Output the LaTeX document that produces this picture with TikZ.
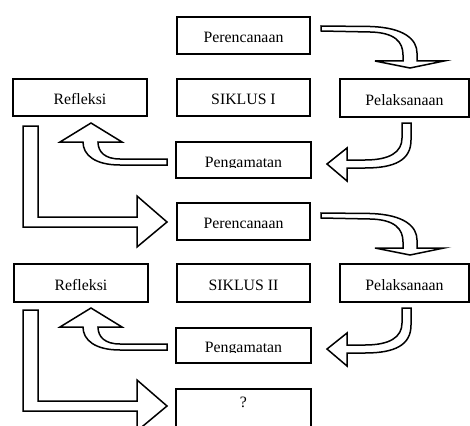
\documentclass[tikz,border=0pt]{standalone}
\usepackage{fontspec}
\setmainfont{Liberation Serif}
\newcommand\myArrA{\draw[blk] (321,26) -- (370,26.5) .. controls (405,27.5) and (417,40) .. (417,53) -- (417,61) -- (444,61) -- (410,68) -- (375,61) -- (403,61) -- (403,55) .. controls (403,42) and (395,32.5) .. (370,32) -- (321,31) -- cycle;}
\newcommand\myArrB{\draw[blk] (402,123) -- (411,123) -- (411,140) .. controls (411,160) and (395,168) .. (365,168) -- (347,168) -- (347,181) -- (327,164) -- (347,148) -- (347,160) -- (365,160) .. controls (390,160) and (402,152) .. (402,138) -- cycle;}
\newcommand\myArrC{\draw[blk] (167,159) -- (167,165) -- (120,165) .. controls (95,165) and (83,155) .. (83,142) -- (60,142) -- (91,123) -- (122,142) -- (98,142) .. controls (98,152) and (105,159) .. (120,159) -- cycle;}
\newcommand\myArrD{\draw[blk] (23,126) -- (38,126) -- (38,217) -- (137,217) -- (137,196) -- (167,222) -- (137,247) -- (137,227) -- (23,227) -- cycle;}
\begin{document}
\begin{tikzpicture}[x=1pt,y=-1pt,
  lbl/.style={font=\fontsize{15.8}{18}\selectfont},
  box/.style={draw, line width=2pt, inner sep=0pt, minimum width=133pt, minimum height=37pt, text height=14pt, text depth=0pt, lbl},
  blk/.style={draw, line width=1.5pt, fill=white, line join=miter}]
\useasboundingbox (0,0) rectangle (470,425);
\clip (0,0) rectangle (470,425);
\fill[white] (0,0) rectangle (470,425);
% cycle I
\node[box] (P1) at (243.5,35.5) {Perencanaan};
\node[box] (S1) at (243.5,97.5) {SIKLUS I};
\node[box, minimum width=129pt, minimum height=38pt] (L1) at (404.5,98) {Pelaksanaan};
\node[box, minimum width=134pt] (R1) at (80,97.5) {Refleksi};
\node[box, minimum width=135pt, minimum height=36pt] (G1) at (243.5,160) {};
\begin{scope}
  \clip (176,142) rectangle (311,167.5);
  \node[lbl, anchor=base, inner sep=0pt] (G1t) at (243.5,167) {Pengamatan};
\end{scope}
\myArrA
\myArrB
\myArrC
\myArrD
% cycle II
\node[box] (P2) at (243.5,221) {Perencanaan};
\node[box, minimum height=38pt] (S2) at (243.5,283) {SIKLUS II};
\node[box, minimum width=129pt, minimum height=38pt] (L2) at (404.5,283) {Pelaksanaan};
\node[box, minimum width=134pt, minimum height=38pt] (R2) at (81,283) {Refleksi};
\node[box, minimum width=135pt, minimum height=35pt] (G2) at (243.5,345.5) {};
\begin{scope}
  \clip (176,328) rectangle (311,352.5);
  \node[lbl, anchor=base, inner sep=0pt] (G2t) at (243.5,352) {Pengamatan};
\end{scope}
\node[box, minimum width=135pt, minimum height=38pt] (Q) at (243.5,408) {};
\node[lbl, anchor=base, inner sep=0pt] (Qt) at (243.5,407) {?};
\begin{scope}[shift={(0,187)}]\myArrA\end{scope}
\begin{scope}[shift={(0,185)}]\myArrB\end{scope}
\begin{scope}[shift={(0,185)}]\myArrC\end{scope}
\begin{scope}[shift={(0,184)}]\myArrD\end{scope}
\end{tikzpicture}
\end{document}
